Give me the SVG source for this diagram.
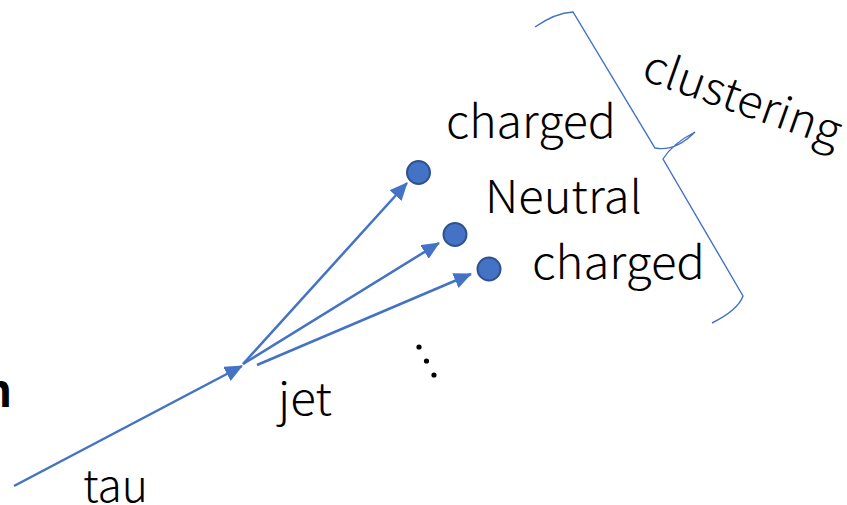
<svg xmlns="http://www.w3.org/2000/svg" width="847" height="505" viewBox="0 0 847 505">
<style>
.t{font-family:"Noto Sans CJK JP","Noto Sans",sans-serif;font-size:45px;font-weight:300;fill:#000}
.b{font-weight:bold}
.ln{stroke:#4472C4;stroke-width:2.5;fill:none}
.dot{fill:#4472C4;stroke:#2F528F;stroke-width:2}
</style>
<defs>
<marker id="ah" markerUnits="userSpaceOnUse" markerWidth="20" markerHeight="16" viewBox="0 0 20 16" refX="17" refY="8" orient="auto">
<path d="M0,0 L18,8 L0,16 Z" fill="#4472C4"/>
</marker>
</defs>
<rect width="847" height="505" fill="#fff"/>
<g id="connectors">
<line class="ln" x1="14" y1="486" x2="242" y2="366" marker-end="url(#ah)"/>
<line class="ln" x1="243" y1="364" x2="407" y2="183" marker-end="url(#ah)"/>
<line class="ln" x1="243" y1="364" x2="439" y2="243" marker-end="url(#ah)"/>
<line class="ln" x1="257" y1="365" x2="471" y2="274" marker-end="url(#ah)"/>
</g>
<g id="p1"><circle class="dot" cx="418.5" cy="172.5" r="11.5"/></g>
<g id="p2"><circle class="dot" cx="455" cy="234.5" r="11.5"/></g>
<g id="p3"><circle class="dot" cx="489" cy="269" r="11.5"/></g>
<g id="ellipsis">
<circle cx="419" cy="347" r="2.6" fill="#000"/>
<circle cx="426.5" cy="361" r="2.6" fill="#000"/>
<circle cx="434" cy="375" r="2.6" fill="#000"/>
</g>
<g id="brace">
<path d="M535,27 Q555,13 573,12 L655,148 Q675,152 695,132 Q672,144 663,159 L743,296 Q738,310 712,323" fill="none" stroke="#4472C4" stroke-width="1.4"/>
</g>
<g id="labels">
<text class="t b" x="12" y="407" text-anchor="end">n</text>
<text class="t" x="446" y="138" textLength="170" lengthAdjust="spacingAndGlyphs">charged</text>
<text class="t" x="485" y="213" textLength="157" lengthAdjust="spacingAndGlyphs">Neutral</text>
<text class="t" x="532" y="279" textLength="173" lengthAdjust="spacingAndGlyphs">charged</text>
<text class="t" x="278" y="415" textLength="54" lengthAdjust="spacingAndGlyphs">jet</text>
<text class="t" x="83" y="502" textLength="65" lengthAdjust="spacingAndGlyphs">tau</text>
<text class="t" x="0" y="0" transform="translate(640,79) rotate(19.5)" textLength="207" lengthAdjust="spacingAndGlyphs">clustering</text>
</g>
</svg>
